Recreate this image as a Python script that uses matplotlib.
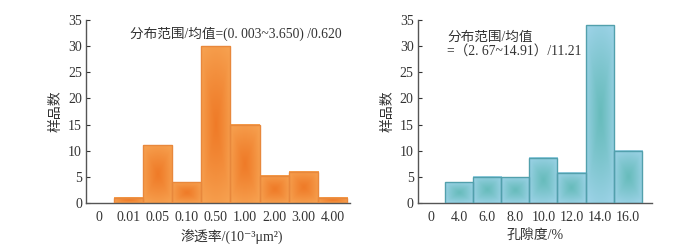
import numpy as np
import matplotlib
matplotlib.use("Agg")
import matplotlib.pyplot as plt
from matplotlib.colors import to_rgb

plt.rcParams["font.family"] = ["Liberation Serif", "Noto Sans CJK SC", "DejaVu Sans"]

# permeability histogram
perm_labels = ["0", "0.01", "0.05", "0.10", "0.50", "1.00", "2.00", "3.00", "4.00"]
perm_counts = [1, 11, 4, 30, 15, 5.2, 6, 1]

# porosity histogram
poro_labels = ["0", "4.0", "6.0", "8.0", "10.0", "12.0", "14.0", "16.0"]
poro_counts = [4, 5, 4.9, 8.7, 5.8, 34, 10]

INK = "#333333"
ORANGE_C = "#ef7b28"
ORANGE_E = "#f7a453"
ORANGE_LINE = "#e8883c"
BLUE_C = "#68bcbc"
BLUE_E = "#a0d4ea"
BLUE_LINE = "#52a0ac"


def shaded_bars(ax, counts, c_in, c_out, edge):
    xs = np.arange(1, len(counts) + 1)
    bars = ax.bar(xs, counts, width=1.0, facecolor="none", edgecolor=edge,
                  linewidth=1.0, zorder=3)
    ci = np.array(to_rgb(c_in))
    co = np.array(to_rgb(c_out))
    for p in bars.patches:
        u = np.linspace(-1, 1, 60)
        v = np.linspace(-1, 1, 120)
        U, V = np.meshgrid(u, v)
        # soft mix of box and radial falloff
        d = 0.5 * np.maximum(np.abs(U), np.abs(V)) + 0.5 * np.sqrt(U ** 2 + V ** 2) / np.sqrt(2)
        d = np.clip(d, 0, 1) ** 1.2
        img = ci[None, None, :] * (1 - d[..., None]) + co[None, None, :] * d[..., None]
        x0 = p.get_x()
        ax.imshow(img, extent=(x0, x0 + p.get_width(), 0, p.get_height()),
                  aspect="auto", origin="lower", zorder=2, interpolation="bilinear")
    return bars


def style_axes(ax, labels, xlim):
    ax.set_xlim(*xlim)
    ax.set_ylim(0, 35)
    ax.set_yticks(range(0, 36, 5))
    ax.set_xticks(range(len(labels)))
    ax.set_xticklabels(labels)
    ax.tick_params(axis="y", direction="in", length=3, width=0.8, colors=INK,
                   labelsize=10, pad=3)
    ax.tick_params(axis="x", length=0, labelsize=10, colors=INK, pad=6)
    for s in ["top", "right"]:
        ax.spines[s].set_visible(False)
    for s in ["left", "bottom"]:
        ax.spines[s].set_color("#555555")
        ax.spines[s].set_linewidth(1.0)
    ax.set_ylabel("样品数", fontsize=10, color=INK, labelpad=4)


fig = plt.figure(figsize=(7, 2.5), dpi=100)
ax1 = fig.add_axes([0.123, 0.188, 0.377, 0.732])
ax2 = fig.add_axes([0.597, 0.188, 0.334, 0.732])

shaded_bars(ax1, perm_counts, ORANGE_C, ORANGE_E, ORANGE_LINE)
style_axes(ax1, perm_labels, (-0.45, 8.6))
ax1.set_xlabel("渗透率/(10⁻³μm²)", fontsize=10, color=INK)
ax1.xaxis.set_label_coords(0.553, -0.14)
ax1.text(0.165, 0.925, "分布范围/均值=(0. 003~3.650) /0.620", transform=ax1.transAxes,
         fontsize=9.8, color=INK, va="center", ha="left")

shaded_bars(ax2, poro_counts, BLUE_C, BLUE_E, BLUE_LINE)
style_axes(ax2, poro_labels, (-0.46, 7.85))
ax2.set_xlabel("孔隙度/%", fontsize=10, color=INK)
ax2.xaxis.set_label_coords(0.5, -0.14)
ax2.text(0.125, 0.905, "分布范围/均值", transform=ax2.transAxes,
         fontsize=9.8, color=INK, va="center", ha="left")
ax2.text(0.125, 0.83, "=（2. 67~14.91）/11.21", transform=ax2.transAxes,
         fontsize=9.8, color=INK, va="center", ha="left")

fig.savefig("out.png", dpi=100, facecolor="white")
